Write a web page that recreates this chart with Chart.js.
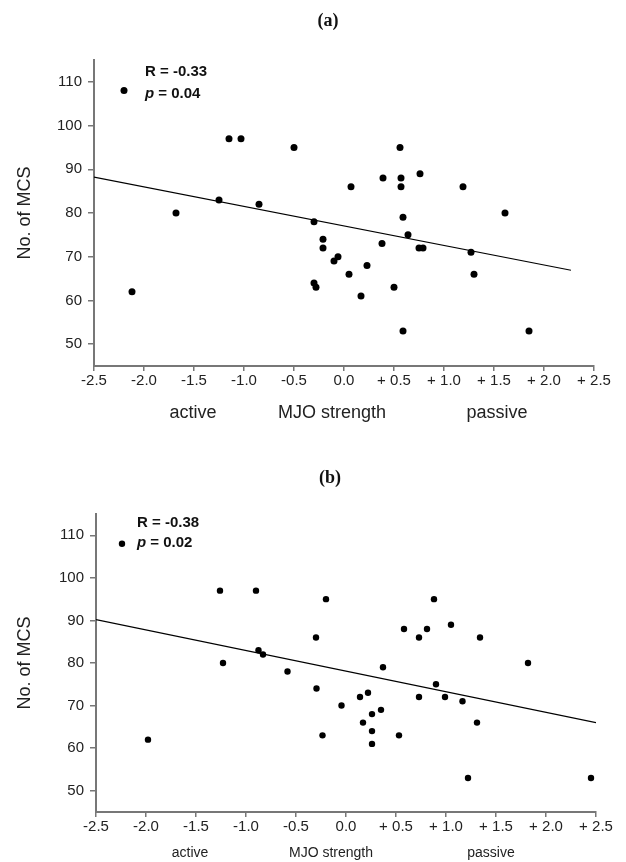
<!DOCTYPE html>
<html>
<head>
<meta charset="utf-8">
<script src="https://cdn.jsdelivr.net/npm/chart.js@4.4.0/dist/chart.umd.min.js"></script>
<style>
  body { margin: 0; background: #fff; }
  canvas { position: absolute; left: 0; }
  #chartA { top: 0; }
  #chartB { top: 440px; }
</style>
</head>
<body>
<canvas id="chartA" width="626" height="440"></canvas>
<canvas id="chartB" width="626" height="422"></canvas>
<script>
// panel (a)
const mjoA = [-2.12, -1.68, -1.25, -1.15, -1.03, -0.85, -0.50, -0.30, -0.30, -0.28, -0.21, -0.21,
  -0.10, -0.06, 0.05, 0.07, 0.17, 0.23, 0.38, 0.39, 0.50, 0.56, 0.57, 0.57, 0.59, 0.59, 0.64,
  0.76, 0.75, 0.79, 1.19, 1.27, 1.30, 1.61, 1.85]
const mcsA = [62, 80, 83, 97, 97, 82, 95, 78, 64, 63, 74, 72,
  69, 70, 66, 86, 61, 68, 73, 88, 63, 95, 88, 86, 79, 53, 75,
  89, 72, 72, 86, 71, 66, 80, 53]
const fitXA = [-2.5, 2.27]
const fitYA = [88.2, 66.9]

// panel (b)
const mjoB = [-1.98, -1.26, -1.23, -0.90, -0.875, -0.83, -0.585, -0.30, -0.295, -0.235, -0.20,
  -0.045, 0.14, 0.17, 0.22, 0.26, 0.26, 0.26, 0.35, 0.37, 0.53, 0.58, 0.73, 0.73, 0.81, 0.88,
  0.90, 0.99, 1.05, 1.165, 1.22, 1.31, 1.34, 1.82, 2.45]
const mcsB = [62, 97, 80, 97, 83, 82, 78, 86, 74, 63, 95,
  70, 72, 66, 73, 68, 64, 61, 69, 79, 63, 88, 86, 72, 88, 95,
  75, 72, 89, 71, 53, 66, 86, 80, 53]
const fitXB = [-2.5, 2.5]
const fitYB = [90.2, 66.0]

const xTicks = [-2.5, -2.0, -1.5, -1.0, -0.5, 0, 0.5, 1.0, 1.5, 2.0, 2.5]
const yTicks = [50, 60, 70, 80, 90, 100, 110]
const bottomLabels = ['active', 'MJO strength', 'passive']

const SANS = '"Liberation Sans", Arial, sans-serif'

function pts(xs, ys){
  return xs.map((x, i) => ({x: x, y: ys[i]}))
}

function xFmt(v){
  if (Math.abs(v) < 1e-9) return '0.0'
  return v < 0 ? v.toFixed(1) : '+ ' + v.toFixed(1)
}

// texts: panel letter, R / p note, labels under the axis
const notes = {
  id: 'notes',
  afterDraw(chart, args, o){
    const ctx = chart.ctx
    const xs = chart.scales.x, ys = chart.scales.y
    ctx.save()
    ctx.fillStyle = '#111'
    ctx.textBaseline = 'middle'
    ctx.textAlign = 'center'
    ctx.font = 'bold 18px "Liberation Serif", "Times New Roman", serif'
    ctx.fillText(o.letter, o.letterX, o.letterY)

    ctx.textAlign = 'left'
    const nx = xs.getPixelForValue(o.noteAt[0])
    ctx.font = 'bold 15px ' + SANS
    ctx.fillText('R = ' + o.r, nx, ys.getPixelForValue(o.noteAt[1]))
    const py = ys.getPixelForValue(o.noteAt[2])
    ctx.font = 'italic bold 15px ' + SANS
    ctx.fillText('p', nx, py)
    const w = ctx.measureText('p').width
    ctx.font = 'bold 15px ' + SANS
    ctx.fillText(' = ' + o.p, nx + w, py)

    ctx.textAlign = 'center'
    ctx.font = o.labelSize + 'px ' + SANS
    ctx.fillStyle = '#222'
    bottomLabels.forEach((t, i) => {
      ctx.fillText(t, xs.getPixelForValue(o.labelAt[i]), chart.chartArea.bottom + o.labelGap)
    })
    ctx.restore()
  }
}

function makeChart(id, xs, ys, fx, fy, marker, cfg){
  return new Chart(document.getElementById(id), {
    type: 'scatter',
    data: {
      datasets: [
        {
          data: pts(xs, ys),
          backgroundColor: '#000',
          borderWidth: 0,
          pointRadius: cfg.radius,
          pointHoverRadius: cfg.radius
        },
        {
          data: [marker],
          backgroundColor: '#000',
          borderWidth: 0,
          pointRadius: cfg.radius
        },
        {
          type: 'line',
          data: pts(fx, fy),
          borderColor: '#000',
          borderWidth: 1.2,
          pointRadius: 0,
          fill: false
        }
      ]
    },
    options: {
      responsive: false,
      animation: false,
      devicePixelRatio: 1,
      layout: { padding: { top: cfg.top, right: cfg.right, left: 0, bottom: 0 } },
      plugins: {
        legend: { display: false },
        tooltip: { enabled: false },
        notes: cfg.notes
      },
      scales: {
        x: {
          type: 'linear',
          min: -2.5,
          max: 2.5,
          afterBuildTicks: s => { s.ticks = xTicks.map(v => ({value: v})) },
          afterFit: s => { s.height = cfg.xHeight },
          grid: { drawOnChartArea: false, drawTicks: true, tickLength: 5, color: '#777', lineWidth: 1.5 },
          border: { color: '#777', width: 2 },
          ticks: {
            padding: 1,
            color: '#222',
            font: { family: SANS, size: 15 },
            maxRotation: 0,
            autoSkip: false,
            callback: v => xFmt(v)
          }
        },
        y: {
          min: 45,
          max: 115,
          afterBuildTicks: s => { s.ticks = yTicks.map(v => ({value: v})) },
          afterFit: s => { s.width = cfg.yWidth },
          grid: { drawOnChartArea: false, drawTicks: true, tickLength: 6, color: '#777', lineWidth: 1.5 },
          border: { color: '#777', width: 2 },
          ticks: {
            padding: 6,
            color: '#222',
            font: { family: SANS, size: 15 }
          },
          title: {
            display: true,
            text: 'No. of MCS',
            color: '#222',
            font: { family: SANS, size: 18 },
            padding: { top: 14, bottom: 0 }
          }
        }
      }
    },
    plugins: [notes]
  })
}

makeChart('chartA', mjoA, mcsA, fitXA, fitYA, {x: -2.2, y: 108}, {
  radius: 3.5, top: 60, right: 32, xHeight: 74, yWidth: 94,
  notes: { letter: '(a)', letterX: 328, letterY: 21, r: '-0.33', p: '0.04',
    noteAt: [-1.99, 112.3, 107.3], labelAt: [-1.51, -0.12, 1.53], labelSize: 18, labelGap: 47 }
})

makeChart('chartB', mjoB, mcsB, fitXB, fitYB, {x: -2.24, y: 108}, {
  radius: 3.2, top: 74, right: 30, xHeight: 50, yWidth: 96,
  notes: { letter: '(b)', letterX: 330, letterY: 38, r: '-0.38', p: '0.02',
    noteAt: [-2.09, 112.9, 108.2], labelAt: [-1.56, -0.15, 1.45], labelSize: 14, labelGap: 41 }
})
</script>
</body>
</html>
